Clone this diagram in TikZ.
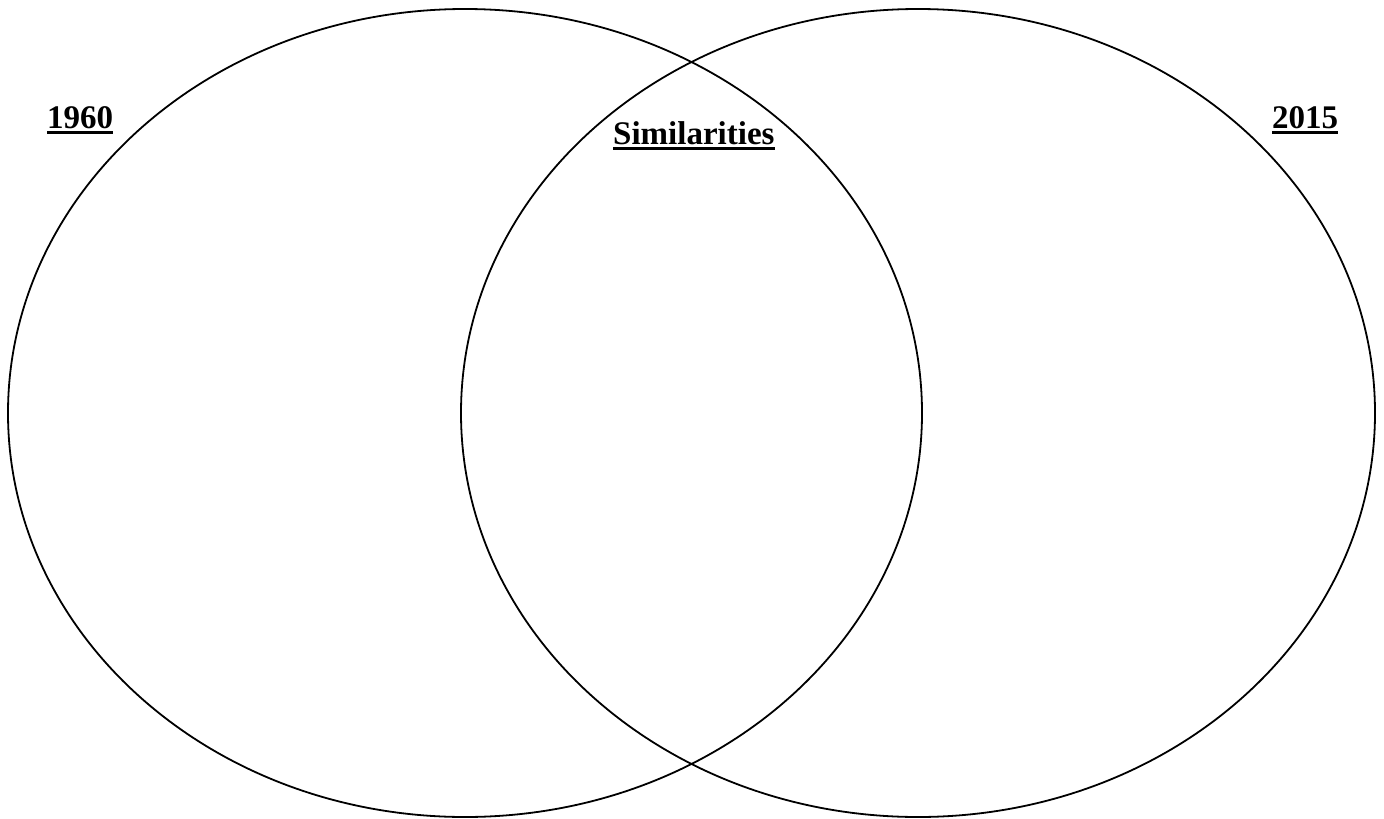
\documentclass[tikz,border=0pt]{standalone}
\usepackage{fontspec}
\setmainfont{Liberation Serif}
\begin{document}
\begin{tikzpicture}[x=1pt,y=-1pt,
  venn/.style={draw=black,line width=1.8pt},
  heading/.style={inner sep=0pt,anchor=base west,font=\bfseries\fontsize{33}{37}\selectfont},
  uline/.style={line width=2.4pt}]
\useasboundingbox (0,0) rectangle (1384,819);
\draw[venn] (465,413) ellipse [x radius=457, y radius=404];
\draw[venn] (918,413) ellipse [x radius=457, y radius=404];
\node[heading] (y1) at (47,128) {1960};
\node[heading] (sim) at (613,144) {Similarities};
\node[heading] (y2) at (1272,128) {2015};
\foreach \n in {y1,sim,y2}{
  \draw[uline] ([yshift=-4.5pt]\n.base west) -- ([yshift=-4.5pt]\n.base east);
}
\end{tikzpicture}
\end{document}
